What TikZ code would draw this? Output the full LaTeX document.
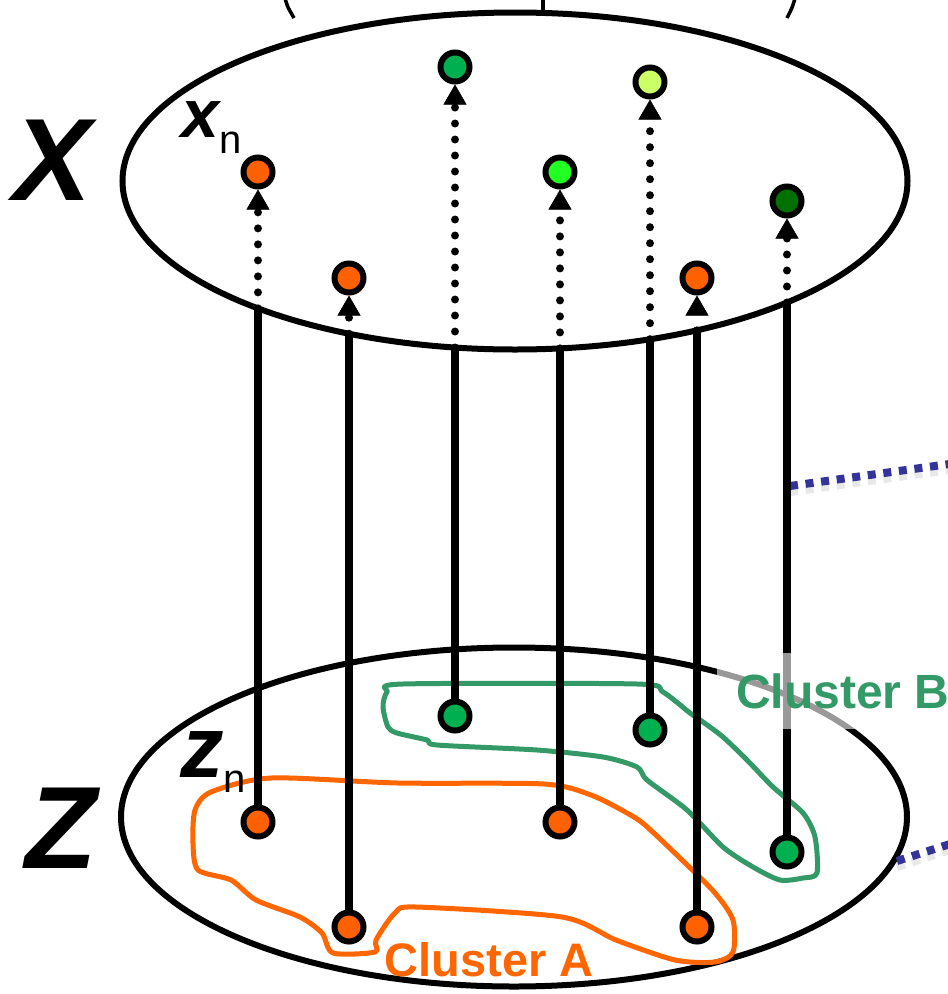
\documentclass[tikz,border=0pt]{standalone}
\usepackage{fontspec}
\setmainfont{Liberation Sans}
\usetikzlibrary{arrows.meta,positioning,shapes.geometric}
\definecolor{clA}{HTML}{FF6600}
\definecolor{clB}{HTML}{339966}
\definecolor{ptorange}{HTML}{FF6000}
\definecolor{ptgreen}{HTML}{00B050}
\definecolor{ptlime}{HTML}{22FF22}
\definecolor{ptpale}{HTML}{CCFF66}
\definecolor{ptdark}{HTML}{007000}
\definecolor{link}{HTML}{333399}

\begin{document}
\begin{tikzpicture}[x=1pt, y=-1pt,
  pt/.style={circle, draw, line width=6pt, minimum size=29pt, inner sep=0pt},
  space/.style={draw, ellipse, line width=6pt, inner sep=0pt},
  stem/.style={line width=7.5pt},
  hop/.style={line width=8pt, line cap=round, dash pattern=on 0pt off 16pt,
    -{Triangle[length=20pt, width=23pt, line width=0.5pt]}},
  link/.style={draw=link, line width=8pt, dash pattern=on 8pt off 7.7pt},
  linkshade/.style={draw=black!20, opacity=0.45, line width=8pt, dash pattern=on 8pt off 7.7pt},
  big/.style={font=\fontsize{117}{117}\selectfont\bfseries\itshape, inner sep=0pt},
  cluster/.style={line width=5pt, line join=round}]
  \useasboundingbox (0,0) rectangle (948,994);

  % the two spaces
  \node[space, minimum width=785pt, minimum height=337pt] (Xsp) at (515,181) {};
  \node[space, minimum width=786pt, minimum height=339pt] (Zsp) at (514,817) {};

  % cut-off bracket above X
  \draw[line width=3.5pt] (284,-6) .. controls (287,6) .. (294,18);
  \draw[line width=3.5pt] (796,-6) .. controls (793,6) .. (787,18);
  \draw[line width=3.5pt] (543,-3) -- (543,12);

  % clusters
  \draw[cluster, draw=clA] plot[smooth cycle, tension=0.45] coordinates {
    (195,810) (211,792) (271,778) (398,783) (544,784) (591,795) (627,813)
    (645,825) (682,860) (715,893) (733,920) (733,952) (715,962) (675,960)
    (616,940) (562,917) (416,907) (395,913) (376,940) (375,952) (333,953)
    (322,933) (300,917) (256,900) (231,880) (198,870) (193,843)};
  \draw[cluster, draw=clB] plot[smooth cycle, tension=0.45] coordinates {
    (387,692) (403,684) (637,684) (663,692) (690,713) (703,722) (723,737)
    (747,760) (773,787) (803,813) (815,837) (817,873) (803,878) (780,880)
    (753,867) (723,847) (687,810) (647,780) (637,767) (603,757) (537,750)
    (437,745) (427,740) (397,733) (388,727) (383,707)};

  % links to the right
  \coordinate (tieA) at (790,486);
  \coordinate (farA) at (1000,457);
  \coordinate (tieB) at (897,861);
  \coordinate (farB) at (1000,828);
  \draw[linkshade] ([yshift=-6pt]tieA) -- ([yshift=-6pt]farA);
  \draw[linkshade] ([yshift=-6pt]tieB) -- ([yshift=-6pt]farB);
  \draw[link] (tieA) -- (farA);
  \draw[link] (tieB) -- (farB);

  % points in X
  \node[pt, fill=ptorange] (x1) at (258,172) {};
  \node[pt, fill=ptorange] (x2) at (349,278) {};
  \node[pt, fill=ptgreen]  (x3) at (455,67) {};
  \node[pt, fill=ptlime]   (x4) at (560,172) {};
  \node[pt, fill=ptpale]   (x5) at (650,82) {};
  \node[pt, fill=ptorange] (x6) at (697,278) {};
  \node[pt, fill=ptdark]   (x7) at (787,201) {};

  % points in Z
  \node[pt, fill=ptorange] (z1) at (258,822) {};
  \node[pt, fill=ptorange] (z2) at (349,927) {};
  \node[pt, fill=ptgreen]  (z3) at (455,716) {};
  \node[pt, fill=ptorange] (z4) at (560,822) {};
  \node[pt, fill=ptgreen]  (z5) at (650,730) {};
  \node[pt, fill=ptorange] (z6) at (697,927) {};
  \node[pt, fill=ptgreen]  (z7) at (787,852) {};

  \foreach \i/\x in {1/258,2/349,3/455,4/560,5/650,6/697,7/787}{
    \pgfmathsetmacro{\yb}{181+168.5*sqrt(1-((\x-515)/392.5)^2)}
    \coordinate (e\i) at (\x,\yb);
    \draw[stem] (z\i) -- (e\i);
    \draw[hop] (e\i) -- (x\i);
  }

  % labels
  \node[big] (Xlbl) at (53,160) {X};
  \node[big] (Zlbl) at (61,828) {Z};
  \node[anchor=base west, inner sep=0pt, font=\fontsize{68}{68}\selectfont\bfseries\itshape] (xnlbl) at (181,137)
    {x\raisebox{-16pt}{\fontsize{40}{40}\selectfont\mdseries\upshape n}};
  \node[anchor=base west, inner sep=0pt, font=\fontsize{87}{87}\selectfont\bfseries\itshape] (znlbl) at (180,777)
    {z\raisebox{-15pt}{\fontsize{40}{40}\selectfont\mdseries\upshape n}};
  \node[inner sep=0pt, text=clA, font=\fontsize{47}{47}\selectfont\bfseries] (lblA) at (489,960) {Cluster A};
  \node[anchor=west, fill=white, fill opacity=0.6, text opacity=1, text=clB, inner xsep=19pt, minimum height=76pt,
    font=\fontsize{48}{48}\selectfont\bfseries] (lblB) at (717,691) {Cluster B};
\end{tikzpicture}
\end{document}
